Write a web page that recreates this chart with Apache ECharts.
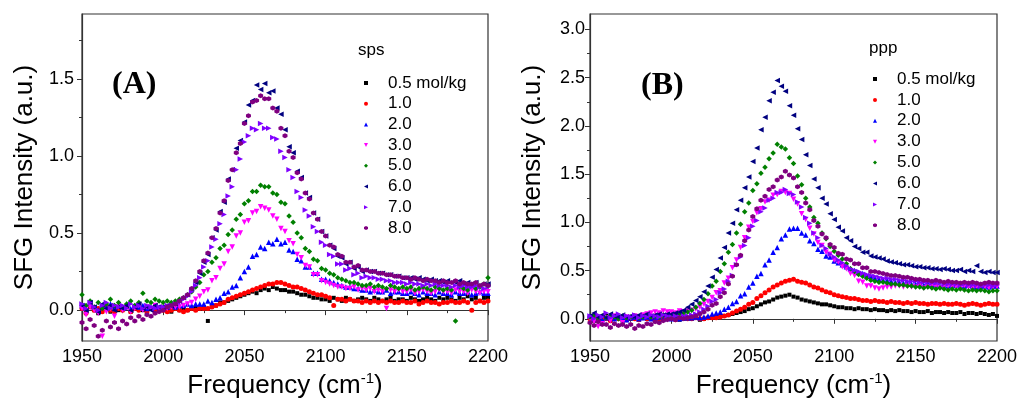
<!DOCTYPE html>
<html>
<head>
<meta charset="utf-8">
<script src="https://cdn.jsdelivr.net/npm/echarts@6/dist/echarts.min.js"></script>
<style>
  html, body { margin: 0; padding: 0; background: #fff; }
  #chart { width: 1022px; height: 419px; }
</style>
</head>
<body>
<div id="chart"></div>
<script>
// frequency grid (cm-1), shared by every series
const freq = [
  1950,1952.5,1955,1957.5,1960,1962.5,1965,1967.5,1970,1972.5,
  1975,1977.5,1980,1982.5,1985,1987.5,1990,1992.5,1995,1997.5,
  2000,2002.5,2005,2007.5,2010,2012.5,2015,2017.5,2020,2022.5,
  2025,2027.5,2030,2032.5,2035,2037.5,2040,2042.5,2045,2047.5,
  2050,2052.5,2055,2057.5,2060,2062.5,2065,2067.5,2070,2072.5,
  2075,2077.5,2080,2082.5,2085,2087.5,2090,2092.5,2095,2097.5,
  2100,2102.5,2105,2107.5,2110,2112.5,2115,2117.5,2120,2122.5,
  2125,2127.5,2130,2132.5,2135,2137.5,2140,2142.5,2145,2147.5,
  2150,2152.5,2155,2157.5,2160,2162.5,2165,2167.5,2170,2172.5,
  2175,2177.5,2180,2182.5,2185,2187.5,2190,2192.5,2195,2197.5,
  2200
];

const concLabels = ['0.5 mol/kg', '1.0', '2.0', '3.0', '5.0', '6.0', '7.0', '8.0'];

// (A) sps
const spsA05 = [
  0.02,-0.01,0.03,0.00,-0.02,0.01,0.03,-0.01,0.02,0.00,
  0.01,0.03,-0.01,0.02,0.04,0.00,0.02,0.01,0.03,0.01,
  0.00,0.01,-0.01,0.01,0.00,0.01,0.00,0.01,0.02,0.01,
  0.02,-0.07,0.03,0.03,0.05,0.05,0.06,0.07,0.08,0.09,
  0.10,0.11,0.12,0.11,0.13,0.14,0.13,0.15,0.14,0.13,
  0.13,0.12,0.12,0.11,0.10,0.10,0.09,0.08,0.08,0.07,
  0.07,0.06,0.08,0.07,0.06,0.08,0.07,0.06,0.07,0.08,
  0.07,0.06,0.08,0.07,0.06,0.07,0.08,0.06,0.07,0.07,
  0.06,0.08,0.07,0.06,0.07,0.08,0.07,0.06,0.08,0.07,
  0.08,0.07,0.06,0.08,0.07,0.09,0.07,0.08,0.06,0.08,
  0.08
];
const spsA10 = [
  0.01,-0.02,0.02,0.00,0.01,-0.01,0.02,0.00,-0.01,0.01,
  0.00,0.02,-0.01,0.01,0.00,0.01,-0.01,0.01,0.00,0.01,
  0.00,-0.01,0.00,0.01,0.00,-0.01,0.00,0.01,0.00,0.01,
  0.01,0.01,0.02,0.03,0.04,0.05,0.07,0.08,0.09,0.10,
  0.11,0.12,0.13,0.14,0.15,0.16,0.17,0.17,0.18,0.18,
  0.17,0.16,0.15,0.15,0.14,0.13,0.12,0.11,0.10,0.10,
  0.09,0.08,0.03,0.07,0.07,0.06,0.07,0.06,0.06,0.05,
  0.06,0.05,0.06,0.05,0.06,0.05,0.06,0.05,0.05,0.06,
  0.05,0.05,0.06,0.04,0.05,0.06,0.05,0.05,0.04,0.05,
  0.05,0.06,0.05,0.05,0.06,0.05,0.00,0.05,0.06,0.05,
  0.06
];
const spsA20 = [
  0.03,0.01,0.04,0.02,0.00,0.03,0.02,0.04,0.01,0.03,
  0.02,0.04,0.01,0.03,0.02,0.03,0.01,0.02,0.03,0.02,
  0.02,0.02,0.03,0.02,0.03,0.03,0.04,0.03,0.04,0.04,
  0.04,0.06,0.05,0.07,0.08,0.11,0.12,0.15,0.16,0.21,
  0.25,0.28,0.35,0.36,0.41,0.40,0.44,0.43,0.46,0.43,
  0.44,0.39,0.38,0.33,0.32,0.28,0.28,0.24,0.24,0.20,
  0.20,0.19,0.18,0.17,0.16,0.15,0.15,0.14,0.14,0.13,
  0.13,0.12,0.13,0.12,0.12,0.13,0.11,0.12,0.12,0.11,
  0.11,0.12,0.11,0.10,0.12,0.11,0.11,0.10,0.12,0.11,
  0.11,0.10,0.12,0.11,0.11,0.12,0.10,0.11,0.12,0.11,
  0.11
];
const spsA30 = [
  0.01,-0.03,0.02,0.00,-0.02,-0.17,-0.01,0.01,-0.04,0.02,
  0.00,0.02,-0.01,0.01,0.03,0.00,0.02,0.01,0.03,0.01,
  0.01,0.01,0.02,0.02,0.02,0.03,0.04,0.05,0.07,0.09,
  0.12,0.13,0.19,0.21,0.27,0.30,0.38,0.41,0.48,0.50,
  0.57,0.58,0.63,0.64,0.67,0.66,0.65,0.61,0.59,0.53,
  0.51,0.45,0.43,0.36,0.34,0.29,0.28,0.23,0.23,0.19,
  0.18,0.17,0.16,0.15,0.15,0.14,0.14,0.15,0.13,0.14,
  0.13,0.14,0.12,0.13,0.12,0.01,0.13,0.12,0.13,0.12,
  0.12,0.13,0.11,0.12,0.13,0.12,0.11,0.12,0.13,0.12,
  0.12,0.11,0.13,0.12,0.12,0.11,0.13,0.12,0.11,0.12,
  0.12
];
const spsA50 = [
  0.10,0.03,0.06,0.02,0.05,0.01,0.04,0.07,0.03,0.05,
  0.02,0.04,0.06,0.03,0.05,0.11,0.06,0.05,0.07,0.06,
  0.05,0.06,0.05,0.06,0.07,0.08,0.10,0.12,0.15,0.18,
  0.23,0.25,0.31,0.34,0.40,0.42,0.49,0.52,0.59,0.62,
  0.69,0.71,0.77,0.77,0.81,0.80,0.80,0.76,0.75,0.70,
  0.69,0.61,0.57,0.50,0.47,0.40,0.38,0.33,0.32,0.27,
  0.26,0.24,0.23,0.21,0.20,0.19,0.18,0.18,0.17,0.16,
  0.16,0.17,0.15,0.16,0.15,0.14,0.16,0.15,0.14,0.15,
  0.14,0.15,0.13,0.14,0.15,0.14,0.13,0.15,0.14,0.13,
  0.14,0.13,-0.07,0.15,0.14,0.13,0.16,0.14,0.15,0.17,
  0.21
];
const spsA60 = [
  0.03,0.00,0.05,0.02,-0.01,0.04,0.01,0.03,0.00,0.02,
  0.01,0.03,0.00,0.02,0.04,0.01,0.02,0.00,0.03,0.02,
  0.02,0.03,0.03,0.04,0.06,0.08,0.10,0.14,0.18,0.24,
  0.31,0.36,0.47,0.52,0.64,0.70,0.85,0.91,1.05,1.10,
  1.22,1.33,1.36,1.46,1.43,1.47,1.41,1.42,1.31,1.27,
  1.17,1.06,1.02,0.90,0.86,0.76,0.73,0.63,0.59,0.51,
  0.48,0.42,0.40,0.35,0.34,0.30,0.31,0.27,0.28,0.25,
  0.26,0.25,0.25,0.24,0.24,0.23,0.23,0.22,0.22,0.21,
  0.21,0.21,0.20,0.21,0.20,0.19,0.20,0.19,0.19,0.18,
  0.19,0.18,0.18,0.19,0.17,0.18,0.17,0.18,0.16,0.17,
  0.17
];
const spsA70 = [
  0.04,0.01,0.05,0.02,0.00,0.03,0.05,0.01,0.03,0.02,
  0.03,0.01,0.04,0.02,0.03,0.01,0.03,0.02,0.01,0.02,
  0.02,0.03,0.03,0.04,0.05,0.07,0.09,0.12,0.16,0.21,
  0.28,0.32,0.41,0.46,0.56,0.62,0.74,0.80,0.91,0.98,
  1.09,1.13,1.18,1.17,1.21,1.18,1.18,1.12,1.11,1.03,
  0.99,0.91,0.86,0.77,0.73,0.65,0.61,0.54,0.51,0.44,
  0.42,0.36,0.35,0.30,0.30,0.26,0.27,0.23,0.24,0.21,
  0.22,0.21,0.21,0.20,0.20,0.19,0.19,0.18,0.18,0.18,
  0.17,0.18,0.17,0.17,0.16,0.17,0.16,0.17,0.16,0.16,
  0.16,0.15,0.16,0.15,0.16,0.15,0.15,0.16,0.15,0.14,
  0.15
];
const spsA80 = [
  -0.08,-0.12,-0.06,-0.10,-0.17,-0.13,-0.07,-0.11,-0.08,-0.12,
  -0.07,-0.09,-0.05,-0.07,-0.04,-0.06,-0.03,-0.04,-0.02,-0.01,
  0.00,0.02,0.03,0.04,0.06,0.08,0.10,0.14,0.19,0.25,
  0.32,0.37,0.47,0.53,0.63,0.71,0.84,0.91,1.02,1.08,
  1.21,1.26,1.35,1.36,1.39,1.37,1.37,1.31,1.29,1.18,
  1.13,1.03,0.99,0.89,0.85,0.76,0.72,0.63,0.59,0.51,
  0.48,0.42,0.41,0.36,0.35,0.31,0.31,0.28,0.29,0.26,
  0.26,0.25,0.25,0.24,0.24,0.23,0.23,0.22,0.22,0.21,
  0.21,0.20,0.21,0.20,0.19,0.20,0.19,0.19,0.18,0.19,
  0.18,0.18,0.19,0.17,0.18,0.17,0.17,0.18,0.16,0.17,
  0.16
];

// (B) ppp
const pppB05 = [
  0.01,-0.02,0.02,0.00,0.03,-0.01,0.01,0.02,-0.02,0.01,
  0.00,0.02,-0.01,0.01,0.00,0.02,-0.01,0.01,0.00,0.01,
  0.00,0.01,-0.01,0.00,0.01,0.00,0.01,-0.01,0.00,0.01,
  0.01,0.02,0.03,0.03,0.04,0.05,0.06,0.07,0.08,0.10,
  0.11,0.13,0.15,0.17,0.18,0.20,0.22,0.23,0.24,0.25,
  0.23,0.22,0.20,0.19,0.18,0.17,0.16,0.15,0.15,0.14,
  0.13,0.12,0.12,0.11,0.11,0.10,0.11,0.10,0.10,0.09,
  0.10,0.09,0.09,0.08,0.09,0.08,0.09,0.08,0.08,0.07,
  0.08,0.07,0.07,0.08,0.06,0.07,0.07,0.06,0.07,0.06,
  0.06,0.07,0.05,0.06,0.06,0.05,0.06,0.05,0.04,0.05,
  0.03
];
const pppB10 = [
  0.00,0.02,-0.01,0.01,0.00,-0.02,0.01,0.00,0.02,-0.01,
  0.01,0.00,-0.01,0.01,0.00,0.01,-0.01,0.00,0.01,0.00,
  0.00,-0.01,0.00,0.01,0.00,0.00,0.01,0.00,0.00,0.01,
  0.01,0.01,0.02,0.03,0.04,0.06,0.08,0.10,0.12,0.15,
  0.17,0.21,0.24,0.27,0.30,0.33,0.35,0.37,0.39,0.40,
  0.41,0.39,0.38,0.37,0.35,0.33,0.32,0.30,0.28,0.27,
  0.25,0.24,0.23,0.22,0.21,0.21,0.20,0.19,0.19,0.18,
  0.19,0.18,0.18,0.17,0.18,0.17,0.17,0.16,0.17,0.16,
  0.17,0.16,0.16,0.15,0.16,0.16,0.15,0.16,0.15,0.15,
  0.16,0.15,0.14,0.15,0.16,0.15,0.14,0.15,0.16,0.15,
  0.15
];
const pppB20 = [
  0.03,0.00,0.02,-0.01,0.01,0.03,0.00,0.02,0.01,-0.01,
  0.01,0.02,0.00,0.01,0.02,0.00,0.01,0.02,0.00,0.01,
  0.00,0.01,0.00,0.01,0.01,0.01,0.02,0.01,0.02,0.03,
  0.05,0.06,0.07,0.10,0.12,0.16,0.18,0.24,0.26,0.33,
  0.37,0.44,0.47,0.56,0.61,0.69,0.74,0.83,0.87,0.93,
  0.94,0.94,0.89,0.87,0.81,0.78,0.72,0.70,0.65,0.64,
  0.60,0.58,0.56,0.54,0.52,0.50,0.48,0.47,0.45,0.44,
  0.42,0.41,0.40,0.40,0.39,0.38,0.38,0.37,0.37,0.36,
  0.36,0.36,0.35,0.36,0.35,0.35,0.34,0.35,0.34,0.35,
  0.35,0.34,0.34,0.35,0.34,0.33,0.34,0.34,0.33,0.34,
  0.34
];
const pppB30 = [
  0.00,-0.03,-0.08,-0.05,0.01,-0.02,0.03,0.00,-0.04,0.02,
  0.01,0.03,0.02,0.04,0.05,0.06,0.07,0.06,0.08,0.07,
  0.07,0.06,0.08,0.07,0.08,0.09,0.10,0.12,0.15,0.18,
  0.22,0.27,0.29,0.37,0.42,0.53,0.61,0.74,0.84,0.95,
  1.01,1.10,1.14,1.21,1.23,1.28,1.29,1.32,1.31,1.30,
  1.24,1.19,1.09,1.03,0.94,0.88,0.79,0.76,0.69,0.67,
  0.61,0.59,0.54,0.52,0.47,0.45,0.39,0.38,0.34,0.34,
  0.32,0.31,0.32,0.33,0.33,0.34,0.34,0.33,0.34,0.33,
  0.33,0.34,0.32,0.33,0.34,0.33,0.32,0.33,0.34,0.33,
  0.33,0.32,0.34,0.33,0.32,0.33,0.34,0.33,0.32,0.33,
  0.33
];
const pppB50 = [
  0.02,0.04,0.00,0.03,0.01,0.03,0.02,0.00,0.03,0.01,
  0.02,0.03,0.01,0.02,0.04,0.02,0.03,0.02,0.04,0.03,
  0.03,0.04,0.05,0.06,0.07,0.09,0.12,0.16,0.20,0.26,
  0.34,0.39,0.49,0.57,0.69,0.77,0.89,0.98,1.11,1.20,
  1.33,1.40,1.51,1.57,1.66,1.72,1.81,1.78,1.76,1.67,
  1.61,1.48,1.39,1.25,1.16,1.05,0.99,0.89,0.83,0.75,
  0.70,0.66,0.62,0.57,0.52,0.49,0.46,0.44,0.42,0.40,
  0.39,0.38,0.38,0.37,0.36,0.36,0.35,0.35,0.34,0.34,
  0.33,0.33,0.32,0.33,0.32,0.31,0.32,0.31,0.30,0.31,
  0.30,0.31,0.30,0.29,0.30,0.29,0.30,0.29,0.28,0.29,
  0.29
];
const pppB60 = [
  0.03,0.06,0.02,0.04,0.01,0.05,0.03,0.02,0.04,0.02,
  0.03,0.02,0.04,0.03,0.05,0.03,0.04,0.05,0.04,0.05,
  0.05,0.06,0.07,0.09,0.12,0.15,0.19,0.23,0.28,0.34,
  0.43,0.51,0.63,0.74,0.89,0.99,1.13,1.23,1.36,1.47,
  1.63,1.77,1.96,2.09,2.26,2.35,2.47,2.41,2.36,2.21,
  2.11,1.97,1.86,1.70,1.59,1.45,1.36,1.25,1.19,1.09,
  1.03,0.95,0.91,0.84,0.81,0.75,0.73,0.69,0.69,0.65,
  0.64,0.63,0.62,0.60,0.59,0.58,0.57,0.56,0.56,0.55,
  0.54,0.54,0.53,0.53,0.52,0.52,0.51,0.52,0.51,0.50,
  0.50,0.51,0.49,0.50,0.49,0.55,0.49,0.48,0.49,0.48,
  0.48
];
const pppB70 = [
  0.03,0.00,0.04,0.02,0.06,0.01,0.03,0.05,0.01,0.03,
  0.02,0.04,0.01,0.03,0.02,0.04,0.03,0.02,0.04,0.03,
  0.02,0.03,0.02,0.03,0.03,0.04,0.05,0.07,0.10,0.13,
  0.18,0.20,0.27,0.31,0.39,0.45,0.56,0.64,0.76,0.84,
  0.96,1.02,1.11,1.15,1.23,1.25,1.31,1.31,1.34,1.30,
  1.29,1.21,1.16,1.05,0.99,0.89,0.84,0.76,0.73,0.67,
  0.64,0.61,0.58,0.55,0.52,0.50,0.49,0.47,0.46,0.45,
  0.44,0.43,0.42,0.42,0.41,0.41,0.40,0.40,0.39,0.39,
  0.39,0.38,0.38,0.38,0.37,0.37,0.37,0.36,0.36,0.36,
  0.36,0.35,0.36,0.35,0.35,0.35,0.34,0.35,0.35,0.34,
  0.35
];
const pppB80 = [
  -0.04,-0.07,-0.03,-0.06,-0.06,-0.09,-0.05,-0.07,-0.06,-0.08,
  -0.06,-0.10,-0.07,-0.08,-0.05,-0.06,-0.03,-0.04,-0.02,-0.01,
  0.00,-0.01,0.01,0.00,0.01,0.02,0.03,0.05,0.07,0.10,
  0.14,0.16,0.23,0.27,0.36,0.44,0.56,0.66,0.81,0.92,
  1.06,1.14,1.23,1.27,1.34,1.37,1.44,1.47,1.53,1.49,
  1.46,1.37,1.31,1.20,1.13,1.02,0.96,0.88,0.84,0.77,
  0.74,0.68,0.67,0.62,0.61,0.57,0.57,0.53,0.53,0.49,
  0.49,0.48,0.47,0.46,0.45,0.45,0.44,0.43,0.43,0.42,
  0.41,0.41,0.40,0.40,0.39,0.40,0.39,0.38,0.39,0.38,
  0.38,0.37,0.38,0.37,0.38,0.37,0.36,0.37,0.38,0.37,
  0.37
];

const spsSets = [spsA05, spsA10, spsA20, spsA30, spsA50, spsA60, spsA70, spsA80];
const pppSets = [pppB05, pppB10, pppB20, pppB30, pppB50, pppB60, pppB70, pppB80];

const colors = ['#000000', '#ff0000', '#0000ff', '#ff00ff', '#008000', '#000080', '#8000ff', '#800080'];
const symbols = [
  'rect',
  'circle',
  'triangle',
  'path://M0,0L2,0L1,2Z',
  'diamond',
  'path://M2,0L2,2L0,1Z',
  'path://M0,0L2,1L0,2Z',
  'path://M1,0L2,0.5L2,1.5L1,2L0,1.5L0,0.5Z'
];
const sizes = [4, 5, 5.5, 5.5, 5.5, 5.5, 5.5, 5];

const font = '"Liberation Sans", Arial, sans-serif';
const axisColor = '#333';

function makeSeries(sets, idx) {
  return sets.map((vals, i) => ({
    name: concLabels[i],
    type: 'scatter',
    xAxisIndex: idx,
    yAxisIndex: idx * 2,
    symbol: symbols[i],
    symbolSize: sizes[i],
    itemStyle: { color: colors[i], opacity: 1 },
    data: freq.map((f, k) => [f, vals[k]]),
    silent: true
  }));
}

function makeX(gridIndex) {
  return {
    type: 'value', gridIndex: gridIndex,
    min: 1950, max: 2200, interval: 50,
    name: '{a|Frequency (cm}{b|-1}{a|)}',
    nameLocation: 'middle', nameGap: 28,
    nameTextStyle: {
      rich: {
        a: { fontFamily: font, fontSize: 26, color: '#000', lineHeight: 30 },
        b: { fontFamily: font, fontSize: 15, color: '#000', verticalAlign: 'top', lineHeight: 30 }
      }
    },
    axisLine: { lineStyle: { color: axisColor, width: 1.2 } },
    axisTick: { length: 5, lineStyle: { color: axisColor } },
    minorTick: { show: true, splitNumber: 2, length: 3, lineStyle: { color: axisColor } },
    splitLine: { show: false },
    axisLabel: { fontFamily: font, fontSize: 18, color: '#000', margin: 7, formatter: v => String(v) }
  };
}

function makeYMajor(gridIndex, min, max, labels, margin) {
  return {
    type: 'value', gridIndex: gridIndex, min: min, max: max, position: 'left',
    name: 'SFG Intensity (a.u.)',
    nameLocation: 'middle', nameGap: 44,
    nameTextStyle: { fontFamily: font, fontSize: 26, color: '#000' },
    axisLine: { show: true, lineStyle: { color: axisColor, width: 1.2 } },
    axisTick: { show: true, customValues: labels, length: 5, lineStyle: { color: axisColor } },
    axisLabel: {
      customValues: labels, fontFamily: font, fontSize: 18, color: '#000', margin: margin,
      formatter: v => v.toFixed(1)
    },
    splitLine: { show: false }
  };
}

function makeYMinor(gridIndex, min, max, ticks) {
  return {
    type: 'value', gridIndex: gridIndex, min: min, max: max, position: 'left', offset: 0,
    axisLine: { show: false },
    axisTick: { show: true, customValues: ticks, length: 3, lineStyle: { color: axisColor } },
    axisLabel: { show: false },
    splitLine: { show: false }
  };
}

function makeLegend(left, top, gap) {
  return {
    data: concLabels, orient: 'vertical', left: left, top: top,
    itemWidth: 4, itemHeight: 4, itemGap: gap,
    textStyle: { fontFamily: font, fontSize: 17, color: '#000', lineHeight: 20, padding: [0, 0, 0, 15] },
    selectedMode: false
  };
}

const chart = echarts.init(document.getElementById('chart'));

chart.setOption({
  animation: false,
  backgroundColor: '#fff',
  grid: [
    { left: 82, top: 14, width: 406, height: 327, show: true, borderColor: axisColor, borderWidth: 1.2 },
    { left: 590, top: 14, width: 407, height: 327, show: true, borderColor: axisColor, borderWidth: 1.2 }
  ],
  xAxis: [makeX(0), makeX(1)],
  yAxis: [
    makeYMajor(0, -0.2, 1.92, [0, 0.5, 1, 1.5], 8),
    makeYMinor(0, -0.2, 1.92, [0.25, 0.75, 1.25, 1.75]),
    makeYMajor(1, -0.23, 3.16, [0, 0.5, 1, 1.5, 2, 2.5, 3], 5),
    makeYMinor(1, -0.23, 3.16, [0.25, 0.75, 1.25, 1.75, 2.25, 2.75])
  ],
  legend: [makeLegend(359, 68, 0.7), makeLegend(868, 64, 0.9)],
  graphic: [
    { type: 'text', left: 112, top: 69, style: { text: '(A)', font: 'bold 32px "Liberation Serif", "Times New Roman", serif', fill: '#000' } },
    { type: 'text', left: 641, top: 70, style: { text: '(B)', font: 'bold 32px "Liberation Serif", "Times New Roman", serif', fill: '#000' } },
    { type: 'text', left: 358, top: 42, style: { text: 'sps', font: '17px ' + font, fill: '#000' } },
    { type: 'text', left: 869, top: 40, style: { text: 'ppp', font: '17px ' + font, fill: '#000' } }
  ],
  series: makeSeries(spsSets, 0).concat(makeSeries(pppSets, 1))
});
</script>
</body>
</html>
